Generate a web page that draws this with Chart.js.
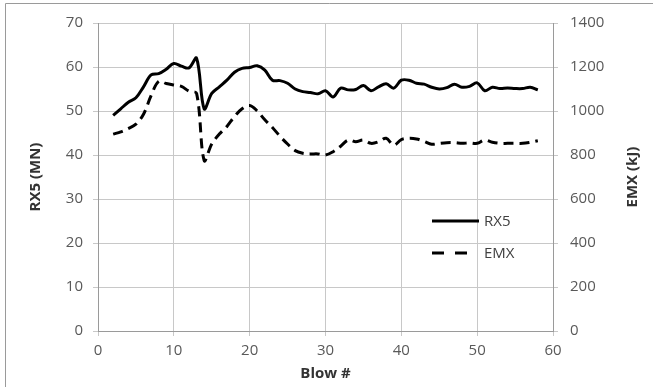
<!DOCTYPE html>
<html>
<head>
<meta charset="utf-8">
<script src="https://cdn.jsdelivr.net/npm/chart.js@4.4.1/dist/chart.umd.min.js"></script>
<style>
  html, body { margin: 0; padding: 0; background: #fff; }
  #wrap { width: 653px; height: 387px; }
</style>
</head>
<body>
<div id="wrap"><canvas id="c" width="653" height="387"></canvas></div>
<script>
// ---- data ----
const blows = [2,3,4,5,6,7,8,9,10,11,12,13,14,15,16,17,18,19,20,21,22,23,24,25,26,27,28,29,30,31,32,33,34,35,36,37,38,39,40,41,42,43,44,45,46,47,48,49,50,51,52,53,54,55,56,57,58];
const rx5 = [49,50.5,52,53,55.5,58.2,58.5,59.5,60.8,60.2,59.8,62,50.5,54,55.5,57,58.8,59.7,59.9,60.3,59.3,57,56.9,56.3,55,54.4,54.2,53.9,54.6,53.2,55.2,54.8,54.9,55.8,54.6,55.5,56.2,55.2,57,57,56.3,56.1,55.4,55,55.3,56.1,55.4,55.6,56.4,54.6,55.4,55.1,55.2,55.1,55.1,55.4,54.8];
const emx = [895,905,920,940,985,1070,1135,1125,1118,1112,1090,1080,775,850,895,930,975,1010,1025,1000,960,925,885,850,820,808,805,805,800,815,840,868,860,868,853,860,876,845,870,876,873,862,849,853,856,856,853,855,853,868,858,853,853,853,853,858,865];
const seriesNames = ['RX5', 'EMX'];
const xTitle = 'Blow #';
const yLeftTitle = 'RX5 (MN)';
const yRightTitle = 'EMX (kJ)';

const FONT = "'Open Sans', 'DejaVu Sans', sans-serif";
const gridColor = '#c8c8c8';

const toPts = (ys) => blows.map((b, i) => ({ x: b, y: ys[i] }));
const plainTick = (v) => String(v);

const framePlugin = {
  id: 'frame',
  beforeDraw(chart) {
    const ctx = chart.ctx;
    ctx.save();
    ctx.fillStyle = '#fff';
    ctx.fillRect(0, 0, chart.width, chart.height);
    ctx.strokeStyle = '#9a9a9a';
    ctx.lineWidth = 1;
    ctx.beginPath();
    ctx.moveTo(5.5, chart.height);
    ctx.lineTo(5.5, 3.5);
    ctx.lineTo(chart.width, 3.5);
    ctx.stroke();
    ctx.restore();
  },
  afterDraw(chart) {
    const ctx = chart.ctx;
    const area = chart.chartArea;
    ctx.save();
    ctx.fillStyle = '#333';
    ctx.font = "bold 15px " + FONT;
    ctx.textAlign = 'center';
    ctx.textBaseline = 'middle';
    ctx.translate(633, (area.top + area.bottom) / 2);
    ctx.rotate(-Math.PI / 2);
    ctx.fillText(yRightTitle, 0, 0);
    ctx.restore();

    ctx.save();
    const items = chart.data.datasets;
    const lx0 = 432, tx = 484;
    const ys = [221, 253];
    items.forEach((ds, i) => {
      ctx.strokeStyle = ds.borderColor;
      ctx.lineWidth = ds.borderWidth;
      ctx.setLineDash(i === 1 ? [12, 11] : []);
      ctx.beginPath();
      ctx.moveTo(lx0, ys[i]);
      ctx.lineTo(i === 1 ? 467 : 479, ys[i]);
      ctx.stroke();
      ctx.setLineDash([]);
      ctx.fillStyle = '#404040';
      ctx.font = "15px " + FONT;
      ctx.textAlign = 'left';
      ctx.textBaseline = 'middle';
      ctx.fillText(ds.label, tx, ys[i] + 1);
    });
    ctx.restore();
  }
};

new Chart(document.getElementById('c'), {
  type: 'line',
  data: {
    datasets: [
      { label: seriesNames[0], data: toPts(rx5), yAxisID: 'y', borderColor: '#000', borderWidth: 3, pointRadius: 0, tension: 0.35, fill: false },
      { label: seriesNames[1], data: toPts(emx), yAxisID: 'y2', borderColor: '#000', borderWidth: 3, borderDash: [10, 6], pointRadius: 0, tension: 0.35, fill: false }
    ]
  },
  options: {
    responsive: false,
    animation: false,
    layout: { padding: { top: 23, left: 0, right: 0, bottom: 0 } },
    plugins: { legend: { display: false }, tooltip: { enabled: false } },
    scales: {
      x: {
        type: 'linear', min: 0, max: 60,
        ticks: { stepSize: 10, color: '#595959', font: { family: FONT, size: 15 }, padding: 6, maxRotation: 0, callback: plainTick },
        grid: { color: gridColor, tickLength: 5 },
        border: { color: '#9a9a9a' },
        title: { display: true, text: xTitle, color: '#333', font: { family: FONT, size: 15, weight: 'bold' }, padding: { top: 0, bottom: 4 } },
        afterFit(s) { s.height = 56; }
      },
      y: {
        position: 'left', min: 0, max: 70,
        ticks: { stepSize: 10, color: '#595959', font: { family: FONT, size: 15 }, padding: 10, callback: plainTick },
        grid: { color: gridColor, tickLength: 5 },
        border: { color: '#9a9a9a' },
        title: { display: true, text: yLeftTitle, color: '#333', font: { family: FONT, size: 15, weight: 'bold' }, padding: { top: 27, bottom: 0 } },
        afterFit(s) { s.width = 98; }
      },
      y2: {
        position: 'right', min: 0, max: 1400,
        ticks: { stepSize: 200, color: '#595959', font: { family: FONT, size: 15 }, padding: 12, callback: plainTick },
        grid: { drawOnChartArea: false, color: gridColor, tickLength: 5 },
        border: { color: '#9a9a9a' },
        afterFit(s) { s.width = 100; }
      }
    }
  },
  plugins: [framePlugin]
});
</script>
</body>
</html>
